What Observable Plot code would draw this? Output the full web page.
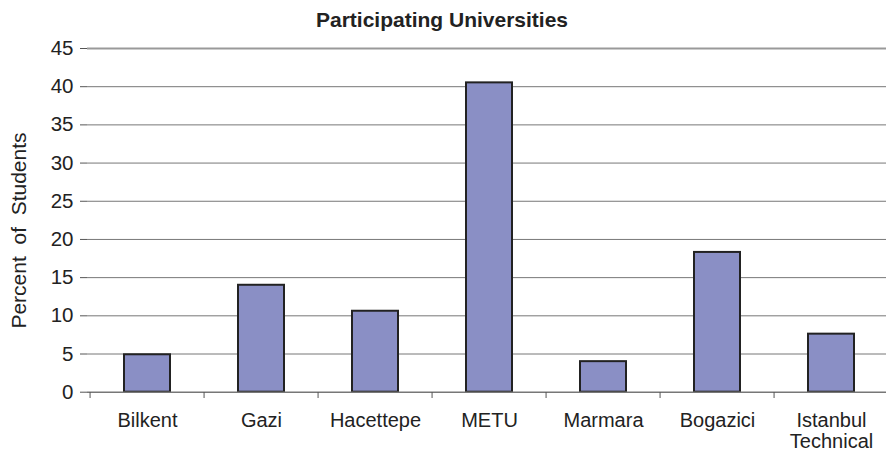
<!DOCTYPE html>
<html>
<head>
<meta charset="utf-8">
<script src="https://cdn.jsdelivr.net/npm/d3@7"></script>
<script src="https://cdn.jsdelivr.net/npm/@observablehq/plot@0.6"></script>
<style>
  html, body { margin: 0; padding: 0; background: #fff; overflow: hidden; }
  svg { font-family: "Liberation Sans", Arial, sans-serif; }
</style>
</head>
<body>
<div id="chart"></div>
<script>
const universities = ["Bilkent", "Gazi", "Hacettepe", "METU", "Marmara", "Bogazici", "Istanbul\nTechnical"];
const percents = [4.9, 14.0, 10.6, 40.5, 4.0, 18.3, 7.6];
const yTicks = [0, 5, 10, 15, 20, 25, 30, 35, 40, 45];
const title = "Participating Universities";
const yLabel = "Percent  of  Students";

const data = universities.map((u, i) => ({u, v: percents[i]}));
const step = (891 - 87) / universities.length;

const chart = Plot.plot({
  width: 886,
  height: 452,
  marginLeft: 87,
  marginRight: 0,
  marginTop: 48,
  marginBottom: 60,
  style: {fontFamily: "'Liberation Sans', Arial, sans-serif", color: "#222", overflow: "hidden"},
  x: {type: "band", domain: universities, range: [87, 891], padding: 0},
  y: {domain: [0, 45], range: [391.7, 48]},
  marks: [
    Plot.gridY(yTicks.slice(1, -1), {stroke: "#777", strokeOpacity: 1, strokeWidth: 1}),
    Plot.ruleY([45], {stroke: "#999", strokeWidth: 2}),
    Plot.barY(data, {x: "u", y: "v", fill: "#8a8fc5", stroke: "#222", strokeWidth: 2, insetLeft: 34, insetRight: 34}),
    Plot.ruleY([0], {stroke: "#777", strokeWidth: 1.5}),
    Plot.ruleX([0], {x: () => 87, y1: 0, y2: 45, stroke: "#555", strokeWidth: 2}),
    Plot.axisY({ticks: yTicks, tickSize: 7, tickPadding: 7, fontSize: 20.5, stroke: "#555", label: null}),
    Plot.axisX({ticks: universities, tickSize: 6, tickFormat: () => "", dx: -step / 2, stroke: "#555", label: null}),
    Plot.axisX({ticks: universities, tickSize: 0, tickPadding: 19.5, fontSize: 20, label: null, lineHeight: 1.05}),
    Plot.text([yLabel], {frameAnchor: "left", textAnchor: "middle", lineAnchor: "middle", rotate: -90, dx: -68, dy: 10, fontSize: 21, fill: "#222"}),
    Plot.text([title], {frameAnchor: "top", lineAnchor: "middle", dx: -45, dy: -28.5, fontSize: 21, fontWeight: "bold", fill: "#222"})
  ]
});
document.getElementById("chart").appendChild(chart);
</script>
</body>
</html>
